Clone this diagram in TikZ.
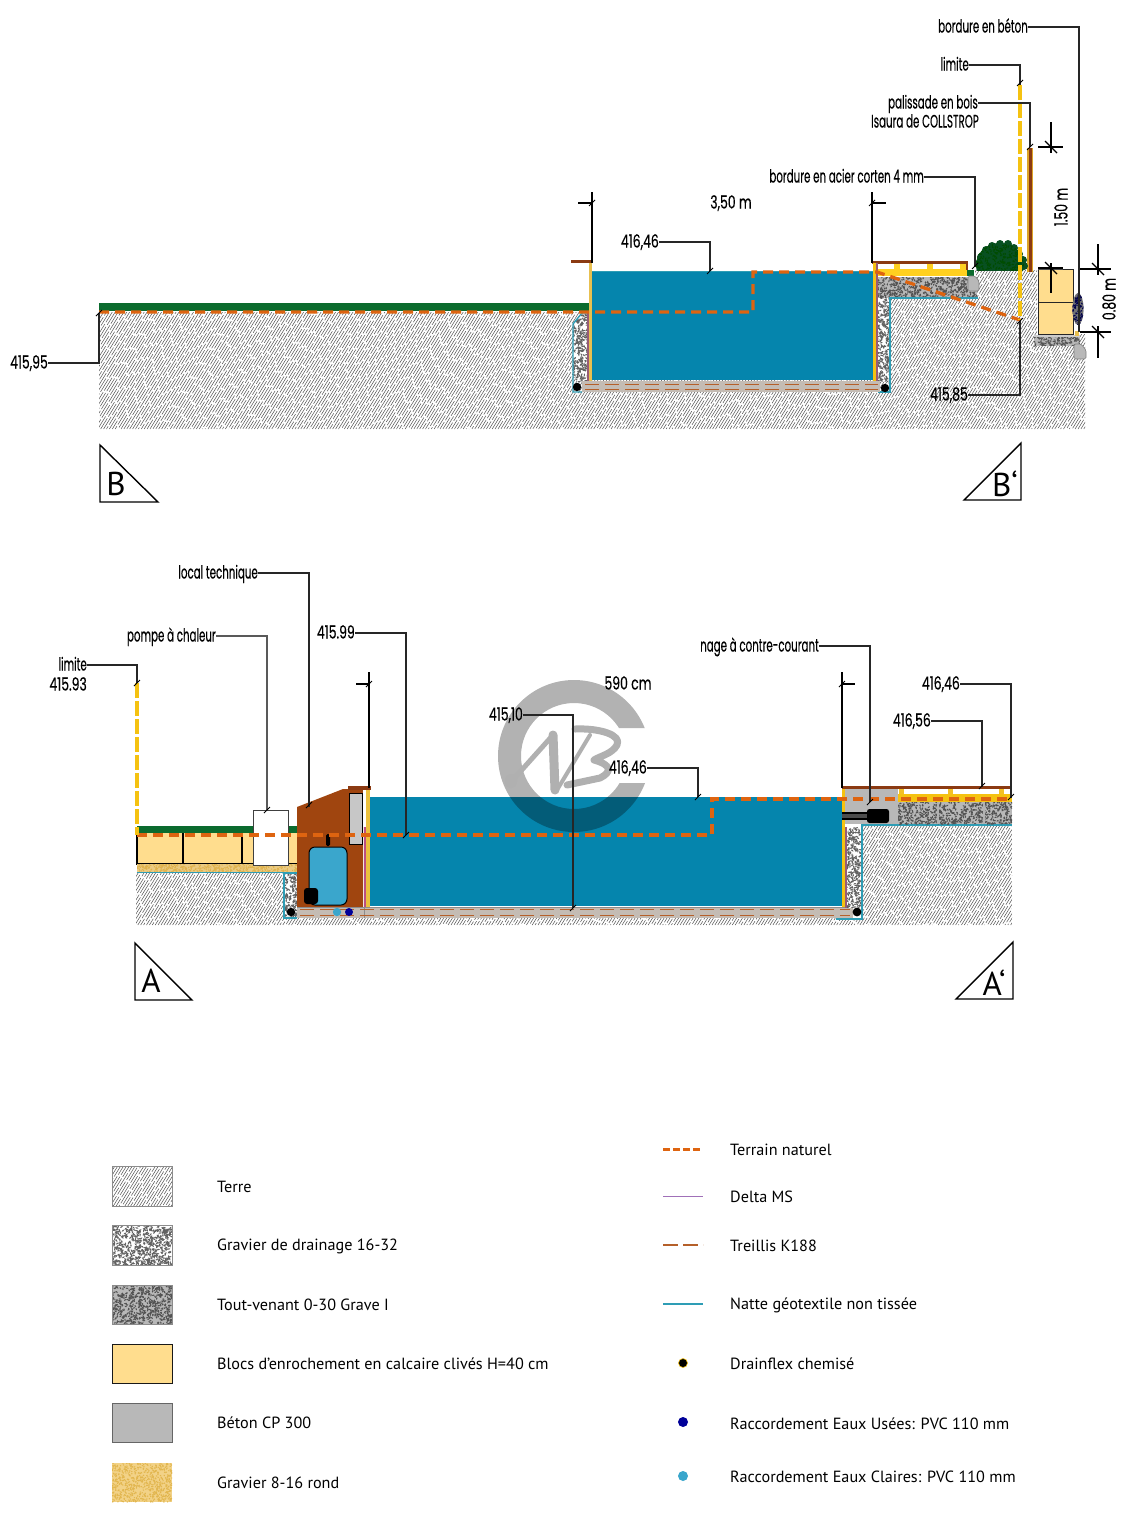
\documentclass[tikz,border=0pt]{standalone}
\usepackage{fontspec}
\usetikzlibrary{calc}
\setmainfont{PT Sans}
\newfontfamily\condfont[FakeStretch=0.57,FakeBold=0.3]{Poppins}
\newfontfamily\numfont[FakeStretch=0.69,FakeBold=0.3]{Poppins}
\newfontfamily\legfont{PT Sans}
\definecolor{eau}{HTML}{0585AD}
\definecolor{vert}{HTML}{0B6B2E}
\definecolor{orangeTN}{HTML}{DE6410}
\definecolor{jaune}{HTML}{F5C211}
\definecolor{jauneb}{HTML}{FFD020}
\definecolor{bloc}{HTML}{FFDD8E}
\definecolor{or}{HTML}{E8C050}
\definecolor{brun}{HTML}{8B3A12}
\definecolor{local}{HTML}{A0450F}
\definecolor{teal}{HTML}{2E9DB5}
\definecolor{beton}{HTML}{B8B8B8}
\definecolor{dalle}{HTML}{C4BCB4}
\definecolor{armat}{HTML}{B5602A}
\definecolor{cuve}{HTML}{3AA6CC}
\definecolor{violet}{HTML}{A070B8}
\definecolor{filigrane}{HTML}{B0B0B0}
\tikzset{
  x=1pt,y=-1pt,
  hatchline/.style={line width=.5pt,black!68},
  lead/.style={line width=1.3pt,black!85},
  dimline/.style={line width=1.2pt,black},
  tn/.style={line width=3.3pt,orangeTN,dash pattern=on 10pt off 6pt},
  lim/.style={line width=4.5pt,jaune,dash pattern=on 15pt off 3pt},
  wire/.style={line width=1.4pt,teal},
  treillis/.style={line width=1.4pt,armat,dash pattern=on 14pt off 6pt},
  lab/.style={font=\condfont\fontsize{18}{18}\selectfont,inner sep=0pt,text height=14pt,text depth=3pt},
  numlab/.style={font=\numfont\fontsize{18}{18}\selectfont,inner sep=0pt,text height=14pt,text depth=3pt},
  leg/.style={font=\legfont\fontsize{16.2}{18}\selectfont,inner sep=0pt,anchor=west},
  tri/.style={draw=black,line width=1.4pt,fill=white,line join=miter},
  trilab/.style={font=\legfont\fontsize{33}{33}\selectfont,inner sep=0pt},
}
\newcommand{\terre}[5]{%
  \begin{scope}\clip #1;
    \fill[white] (#2,#4) rectangle (#3,#5);
    \pgfmathsetmacro\hh{#5-#4}
    \pgfmathsetmacro\xs{#2-0.62*\hh}
    \pgfmathsetmacro\xn{\xs+2.9}
    \pgfmathsetmacro\dx{0.62*\hh}
    \foreach \xx in {\xs,\xn,...,#3}{%
      \pgfmathsetmacro\ph{rnd*17}%
      \draw[hatchline,dash pattern=on 15pt off 2pt,dash phase=\ph pt] (\xx,#5) -- ++(\dx,-\hh);}
  \end{scope}}
\newcommand{\gravel}[9]{% path x0 x1 y0 y1 count base speck radius
  \begin{scope}\clip #1;
    \fill[#7] (#2,#4) rectangle (#3,#5);
    \pgfmathtruncatemacro\gcount{#6}
    \foreach \i in {1,...,\gcount}{%
      \pgfmathsetmacro\gx{#2+rnd*(#3-#2)}%
      \pgfmathsetmacro\gy{#4+rnd*(#5-#4)}%
      \pgfmathsetmacro\ga{rnd*180}%
      \fill[#8,rotate around={\ga:(\gx,\gy)}] (\gx,\gy) ellipse (#9 and .7);}
  \end{scope}}
\newcommand{\drain}[5]{\gravel{#1}{#2}{#3}{#4}{#5}{(#3-#2)*(#5-#4)/4}{white}{black!62}{1.7}}
\newcommand{\tv}[5]{\gravel{#1}{#2}{#3}{#4}{#5}{(#3-#2)*(#5-#4)/4}{black!28}{black!68}{1.4}}
\newcommand{\tickmark}[2]{\draw[dimline,line width=.9pt] (#1,#2) ++(-3,3) -- ++(6,-6);}
\newcommand{\bigtick}[2]{\draw[dimline] (#1,#2) ++(-6,-6) -- ++(12,12);}
\begin{document}
\begin{tikzpicture}
\useasboundingbox (0,0) rectangle (1140,1513);
\fill[white] (0,0) rectangle (1140,1513);
\pgfmathsetseed{42}

% ====== SECTION B-B' ======
\terre{(99,312)--(880,312)--(880,298)--(975,298)--(975,270)--(1037,270)--(1037,346)--(1073,334)--(1085,334)--(1085,429)--(99,429)--cycle}{99}{1085}{268}{429}
% drain gravel
\drain{(578,382)--(573,376)--(573,324)--(582,313)--(588,313)--(588,382)--cycle}{573}{588}{313}{382}
\drain{(877,277) rectangle (890,382)}{877}{890}{277}{382}
\tv{(877,277) rectangle (977,298)}{877}{977}{277}{298}
\draw[wire] (588,313)--(582,313)--(573,324)--(573,392)--(582,392);
\draw[wire] (878,392)--(890,392)--(890,298)--(978,298);
% block wall at right
\tv{(1034,335) rectangle (1080,346)}{1034}{1080}{335}{346}
\fill[black!20] (1034,335) rectangle (1080,337);
\draw[black!85,line width=.9pt,fill=bloc] (1038,269) rectangle (1073,302);
\draw[black!85,line width=.9pt,fill=bloc] (1038,302) rectangle (1073,334);
\fill[black!70] (1038,268) rectangle (1063,270);
\gravel{(1078,309) ellipse (5.5 and 16)}{1072}{1084}{293}{325}{110}{black!55}{blue!30!black}{1.3}
\fill[or] (1075,331) rectangle (1079,336);
\draw[black!50,line width=.6pt,fill=beton,rounded corners=1.5pt] (1074,344)--(1081,344)--(1086,350)--(1086,359)--(1074,359)--cycle;
% palisade
\fill[jaune!55!brown] (1027,148) rectangle (1033,272);
\fill[brun] (1029,148) rectangle (1031.5,272);
% bush
\begin{scope}
  \clip (970,235) rectangle (1035,270.5);
  \foreach \bx/\by in {978/264,981/257,986/250,992/246,1000/244,1008/244,1014/248,1019/254,1023/260,1024/266}{\fill[vert!75!black] (\bx,\by) circle (4);}
  \gravel{(1000,265) ellipse (24 and 22)}{975}{1026}{240}{271}{260}{vert!75!black}{green!30!black}{1.5}
\end{scope}
% green + concrete at deck edge
\fill[vert] (967,270) rectangle (974,276);
\draw[black!50,line width=.6pt,fill=beton,rounded corners=1.5pt] (968,276)--(975,276)--(979,281)--(979,291)--(968,291)--cycle;
% deck
\fill[jauneb] (877,269) rectangle (967,276);
\foreach \px in {894,927,960}{\fill[jauneb] (\px,264) rectangle (\px+5.5,270);}
\fill[brun] (872,261) rectangle (968,264);
\fill[brun] (965.5,261) rectangle (968,270);
% lawn
\fill[vert] (99,303) rectangle (589,311);
% pool
\fill[dalle] (582,381) rectangle (880,392);
\foreach \yy in {384.5,389.5}{\draw[treillis] (585,\yy)--(878,\yy);}
\fill[eau] (592,271) rectangle (873,380);
\draw[teal,line width=.8pt] (592,271)--(873,271);
\fill[or] (588.5,263) rectangle (592,381);
\fill[violet!60!brun] (587,313) rectangle (588.5,381);
\fill[jaune] (873,263) rectangle (875.5,381);
\fill[violet!60!brun] (875.5,263) rectangle (877.5,381);
\fill[brun] (571,260) rectangle (592,263);
\fill[black] (577,387) circle (4.2);
\fill[black] (885,388) circle (4.2);

% ====== SECTION A-A' ======
\terre{(136,872)--(283,872)--(283,918)--(862,918)--(862,825)--(1012,825)--(1012,925)--(136,925)--cycle}{136}{1012}{825}{925}
% blocks
\fill[bloc] (137,833) rectangle (297,864);
\draw[black,line width=1.2pt] (137,833)--(137,864)--(297,864);
\draw[black,line width=1.2pt] (183,833)--(183,864) (242,833)--(242,864);
\gravel{(137,864) rectangle (297,872)}{137}{297}{864}{872}{500}{bloc!92!black}{or!80!brown}{.9}
\draw[teal,line width=1pt] (137,872.5)--(283,872.5);
\fill[vert] (137,826) rectangle (297,832.5);
\draw[black!75,line width=1pt,fill=white] (253,810) rectangle (288,865);
% left gravel
\drain{(283,873) rectangle (297,918)}{283}{297}{873}{918}
\draw[wire] (297,873)--(284,873)--(284,918)--(297,918);
% local technique
\fill[local] (297,807)--(343,789)--(363,789)--(363,907)--(297,907)--cycle;
\fill[brun] (348,786) rectangle (371,789.5);
\draw[black,line width=1pt,fill=black!22] (349,793) rectangle (362,844);
\draw[black,line width=1pt,fill=cuve,rounded corners=6pt] (309,847) rectangle (347,905);
\fill[black,rounded corners=1.5pt] (326,834) rectangle (330,846);
\fill[black,rounded corners=3pt] (304,888) rectangle (318,904);
\fill[white] (363,790) rectangle (366,827);
\fill[violet!70!red] (364,827) rectangle (366,907);
\fill[or!70!jaune] (366,790) rectangle (370,907);
% slab
\fill[dalle] (297,907) rectangle (853,918);
\draw[black!45,line width=.5pt] (297,907)--(853,907) (364,907)--(364,918);
\foreach \yy in {909.5,915.5}{\draw[treillis] (300,\yy)--(850,\yy);}
\fill[black] (291,912) circle (4.2);
\fill[cuve] (337,912) circle (4.2);
\fill[blue!60!black] (349,912) circle (4);
% pool
\fill[eau] (370,797) rectangle (842,906);
\fill[jaune] (842,788) rectangle (845,907);
% right gravel
\drain{(846,827) rectangle (861,908)}{846}{861}{827}{908}
\fill[violet!60!brun] (845,827) rectangle (846.5,908);
\draw[wire] (836,919)--(862,919)--(862,825)--(1012,825);
\fill[black] (857,912) circle (4.4);
% right end
\fill[beton] (845,789) rectangle (898,824);
\tv{(898,802) rectangle (1012,824)}{898}{1012}{802}{824}
\foreach \xx in {937,983}{\fill[black!30] (\xx,802) rectangle (\xx+1.5,824);}
\fill[jaune] (898,794) rectangle (1012,801.5);
\foreach \px in {899,948,999}{\fill[jauneb!80!brown] (\px,788) rectangle (\px+4.5,794);}
\fill[brun] (842,786) rectangle (1012,788.5);
\fill[black] (842,812) rectangle (868,814);
\fill[black] (842,818) rectangle (868,820);
\fill[black!70] (842,814) rectangle (868,818);
\fill[black,rounded corners=2.5pt] (867,809) rectangle (889,823);

% ====== WATERMARK ======
\begin{scope}[opacity=.3]
  \clip (480,660) rectangle (660,728) (480,728) rectangle (610,783) (480,783) rectangle (660,850);
  \fill[black,even odd rule] (574,756) circle (76) (574,756) circle (53);
\end{scope}
\draw[filigrane,line width=5pt,line cap=round] (511,782)--(553,735);
\fill[filigrane] (511,781) ellipse (6 and 7);
\draw[filigrane,line width=9pt,line cap=round] (553,735)--(555,790);
\draw[filigrane,line width=4pt,line cap=round] (557,790)--(590,735);
\draw[filigrane,line width=7pt,line cap=round,line join=round] (575,729) .. controls (600,728) and (622,735) .. (617,745) .. controls (612,754) and (600,756) .. (594,760) .. controls (612,765) and (612,772) .. (600,778) -- (567,785);

% Terrain naturel
\coordinate (tnA) at (99,312); \coordinate (tnB) at (753,312); \coordinate (tnC) at (753,272); \coordinate (tnD) at (877,272); \coordinate (tnE) at (1020,320);
\draw[tn] (tnA)--(tnB)--(tnC)--(tnD)--(tnE);
\coordinate (taA) at (137,835); \coordinate (taB) at (712,835); \coordinate (taC) at (712,799); \coordinate (taD) at (1012,799);
\draw[tn] (taA)--(taB)--(taC)--(taD);
% limites
\coordinate (limT) at (1020,85); \coordinate (limB) at (1020,320);
\draw[lim] (limT)--(limB);
\coordinate (limAT) at (137,683); \coordinate (limAB) at (137,835);
\draw[lim] (limAT)--(limAB);

% ====== LABELS AND LEADERS, B-B' ======
\node[lab,anchor=east] (lbeton) at (1028,27) {bordure en béton};
\coordinate (tbeton) at (1079,332);
\draw[lead] (lbeton.east) -| (tbeton);
\node[lab,anchor=east] (llim) at (969,65) {limite};
\draw[lead] (llim.east) -| (limT); \tickmark{1020}{83}
\node[lab,anchor=east] (lpal) at (978,103) {palissade en bois};
\node[lab,anchor=east] (lisa) at (979,122) {Isaura de COLLSTROP};
\coordinate (tpal) at (1030,147);
\draw[lead] (lpal.east) -| (tpal); \tickmark{1030}{147}
\node[lab,anchor=east] (lcor) at (924,177) {bordure en acier corten 4 mm};
\coordinate (tcor) at (975,267);
\draw[lead] (lcor.east) -| (tcor); \tickmark{975}{266}
\node[numlab] (l350) at (731,203) {3,50 m};
\node[numlab,anchor=east] (l4646) at (659,242) {416,46};
\coordinate (t4646) at (710,271);
\draw[lead] (l4646.east) -| (t4646); \tickmark{710}{271}
\node[numlab,anchor=east] (l4595) at (48,363) {415,95};
\coordinate (t4595) at (99,313);
\draw[lead] (l4595.east) -| (t4595); \tickmark{99}{313}
\node[numlab,anchor=east] (l4585) at (968,395) {415,85};
\coordinate (t4585) at (1020,321);
\draw[lead] (l4585.east) -| (t4585); \tickmark{1020}{321}
\node[numlab,rotate=90] (l150) at (1062,207) {1.50 m};
\node[numlab,rotate=90] (l080) at (1110,299) {0.80 m};
% dimensions
\draw[dimline] (592,192)--(592,263) (578,203)--(592,203); \tickmark{592}{203}
\draw[dimline] (872,192)--(872,263) (872,203)--(886,203); \tickmark{872}{203}
\draw[dimline] (1051,122)--(1051,153) (1038,147)--(1063,147); \bigtick{1051}{147}
\draw[dimline] (1051,263)--(1051,293) (1038,268)--(1063,268); \bigtick{1051}{268}
\draw[dimline] (1098,244)--(1098,275) (1080,269)--(1111,269); \bigtick{1098}{269}
\draw[dimline] (1098,326)--(1098,358) (1080,332)--(1111,332); \bigtick{1098}{332}
% triangles
\draw[tri] (100,445)--(100,502)--(158,502)--cycle;
\node[trilab] (tB) at (116,484) {B};
\draw[tri] (1021,443)--(1021,500)--(964,500)--cycle;
\node[trilab] (tBp) at (1005,484) {B‘};

% ====== LABELS AND LEADERS, A-A' ======
\node[lab,anchor=east] (alocal) at (258,573) {local technique};
\coordinate (talocal) at (309,807);
\draw[lead] (alocal.east) -| (talocal); \tickmark{309}{805}
\node[lab,anchor=east] (apac) at (216,636) {pompe à chaleur};
\coordinate (tapac) at (267,810);
\draw[lead,black!65] (apac.east) -| (tapac); \tickmark{267}{810}
\node[lab,anchor=east] (alim) at (87,665) {limite};
\draw[lead] (alim.east) -| (limAT); \tickmark{137}{683}
\node[numlab,anchor=east] (a4593) at (87,685) {415.93};
\node[numlab,anchor=east] (a4599) at (355,633) {415.99};
\coordinate (ta4599) at (406,835);
\draw[lead] (a4599.east) -| (ta4599); \tickmark{406}{835}
\node[numlab,anchor=east] (a4510) at (523,715) {415,10};
\coordinate (ta4510) at (573,908);
\draw[lead] (a4510.east) -| (ta4510); \tickmark{573}{908}
\node[numlab] (a590) at (628,684) {590 cm};
\node[numlab,anchor=east] (a4646) at (647,768) {416,46};
\coordinate (ta4646) at (698,797);
\draw[lead] (a4646.east) -| (ta4646); \tickmark{698}{797}
\node[lab,anchor=east] (anage) at (819,646) {nage à contre-courant};
\coordinate (tanage) at (870,802);
\draw[lead] (anage.east) -| (tanage); \tickmark{870}{802}
\node[numlab,anchor=east] (a4646b) at (960,684) {416,46};
\coordinate (ta4646b) at (1011,798);
\draw[lead] (a4646b.east) -| (ta4646b); \tickmark{1011}{797}
\node[numlab,anchor=east] (a4656) at (931,721) {416,56};
\coordinate (ta4656) at (982,787);
\draw[lead] (a4656.east) -| (ta4656); \tickmark{982}{786}
\draw[dimline] (369,672)--(369,788) (356,684)--(369,684); \tickmark{369}{684}
\draw[dimline] (842,672)--(842,788) (842,684)--(855,684); \tickmark{842}{684}
\draw[tri] (135,943)--(135,1000)--(192,1000)--cycle;
\node[trilab] (tA) at (151,981) {A};
\draw[tri] (1013,942)--(1013,999)--(956,999)--cycle;
\node[trilab] (tAp) at (994,983) {A‘};

% ====== LEGEND ======
\terre{(112,1166) rectangle (172,1206)}{112}{172}{1166}{1206}
\draw[black!45,line width=.6pt] (112,1166) rectangle (172,1206);
\drain{(112,1225) rectangle (172,1265)}{112}{172}{1225}{1265}
\draw[black!45,line width=.6pt] (112,1225) rectangle (172,1265);
\tv{(112,1285) rectangle (172,1324)}{112}{172}{1285}{1324}
\draw[black!45,line width=.6pt] (112,1285) rectangle (172,1324);
\draw[black!90,line width=1pt,fill=bloc] (112,1344) rectangle (172,1383);
\draw[black!60,line width=.7pt,fill=beton] (112,1403) rectangle (172,1442);
\gravel{(112,1463) rectangle (172,1502)}{112}{172}{1463}{1502}{700}{bloc!95!black}{or!85!brown}{.9}
\node[leg] (g1) at (217,1187) {Terre};
\node[leg] (g2) at (217,1246) {Gravier de drainage 16-32};
\node[leg] (g3) at (217,1305) {Tout-venant 0-30 Grave I};
\node[leg] (g4) at (217,1364) {Blocs d’enrochement en calcaire clivés H=40 cm};
\node[leg] (g5) at (217,1423) {Béton CP 300};
\node[leg] (g6) at (217,1483) {Gravier 8-16 rond};
\coordinate (k1a) at (663,1149); \coordinate (k1b) at (703,1149);
\draw[tn,line width=3pt,dash pattern=on 6.5pt off 3.5pt] (k1a)--(k1b);
\coordinate (k2a) at (663,1196); \coordinate (k2b) at (703,1196);
\draw[violet,line width=1pt] (k2a)--(k2b);
\coordinate (k3a) at (663,1245); \coordinate (k3b) at (703,1245);
\draw[armat,line width=1.4pt,dash pattern=on 15pt off 5pt] (k3a)--(k3b);
\coordinate (k4a) at (663,1304); \coordinate (k4b) at (703,1304);
\draw[teal,line width=1.4pt] (k4a)--(k4b);
\fill[black,draw=jaune,line width=.6pt] (683,1363) circle (4.5);
\fill[blue!60!black] (683,1422) circle (5);
\fill[cuve] (683,1476) circle (5);
\node[leg] (h1) at (730,1150) {Terrain naturel};
\node[leg] (h2) at (730,1197) {Delta MS};
\node[leg] (h3) at (730,1246) {Treillis K188};
\node[leg] (h4) at (730,1305) {Natte géotextile non tissée};
\node[leg] (h5) at (730,1364) {Drainflex chemisé};
\node[leg] (h6) at (730,1424) {Raccordement Eaux Usées: PVC 110 mm};
\node[leg] (h7) at (730,1477) {Raccordement Eaux Claires: PVC 110 mm};
\end{tikzpicture}
\end{document}
